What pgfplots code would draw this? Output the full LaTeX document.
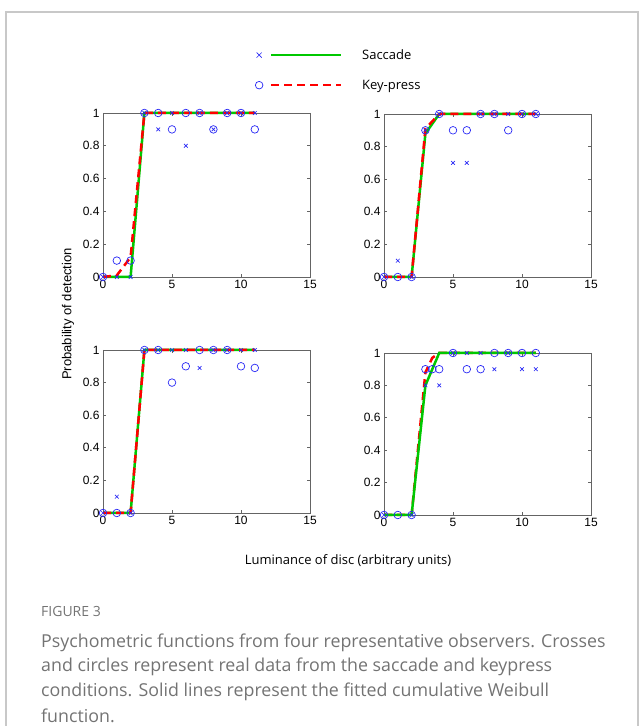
\documentclass[border=0pt]{standalone}
\usepackage{pgfplots}
\pgfplotsset{compat=1.18}
\usepackage{fontspec}
\setmainfont{Liberation Sans}
\newfontfamily\lblfont{Open Sans}
\newfontfamily\capfont{Open Sans}
\definecolor{mblue}{RGB}{40,40,245}
\definecolor{mgreen}{RGB}{0,200,0}
\definecolor{mred}{RGB}{255,0,0}
\definecolor{axgray}{RGB}{100,100,100}
\definecolor{capgray}{RGB}{115,115,115}
\definecolor{framegray}{RGB}{200,200,200}

\pgfplotsset{
  panel/.style={
    scale only axis, width=207pt, height=164pt,
    xmin=0,xmax=15,ymin=0,ymax=1,
    xtick={0,5,10,15}, ytick={0,0.2,0.4,0.6,0.8,1},
    axis line style={axgray, line width=0.7pt},
    tick style={axgray, line width=0.7pt},
    major tick length=3pt,
    tick align=inside,
    ticklabel style={font=\fontsize{12}{14}\selectfont, text=black},
    /pgf/number format/assume math mode=true,
    clip=false,
    anchor=north west,
  },
  sac/.style={only marks, mark=x, mark size=2.6pt, color=mblue, mark options={line width=0.7pt}},
  key/.style={only marks, mark=o, mark size=3.8pt, color=mblue, mark options={line width=0.7pt}},
  gfit/.style={mgreen, line width=2.5pt, no marks},
  rfit/.style={mred, line width=2.5pt, no marks, dash pattern=on 8pt off 5pt},
}

\begin{document}
\begin{tikzpicture}[x=1pt,y=1pt]
\useasboundingbox (0,0) rectangle (644,726);
\draw[framegray, line width=1.2pt] (6,-5) -- (6,714) -- (638,714) -- (638,-5);

% Top-left
\begin{axis}[panel, at={(103pt,613pt)},
  legend style={at={(axis description cs:0.7343,1.2622)}, anchor=west, draw=none, fill=none,
    inner sep=0pt, outer sep=0pt, row sep=19pt, nodes={inner sep=0pt},
    font=\lblfont\fontsize{13}{15}\selectfont},
  legend cell align=left]
\addlegendimage{legend image code/.code={
  \draw[mblue, line width=0.7pt] (-2.6pt,-2.6pt) -- (2.6pt,2.6pt) (-2.6pt,2.6pt) -- (2.6pt,-2.6pt);
  \draw[mgreen, line width=2.5pt, solid] (12pt,0pt) -- (82pt,0pt);
  \path[draw=none] (-3pt,0pt) -- (103pt,0pt);
}}
\addlegendentry{Saccade}
\addlegendimage{legend image code/.code={
  \draw[mblue, line width=0.7pt, solid] (0pt,0pt) circle (3.8pt);
  \draw[mred, line width=2.5pt, dash pattern=on 8pt off 5pt] (12pt,0pt) -- (82pt,0pt);
  \path[draw=none] (-3pt,0pt) -- (103pt,0pt);
}}
\addlegendentry{Key-press}
\addplot[gfit, forget plot] coordinates {(0,0)(1,0)(2,0)(3,1)(4,1)(5,1)(6,1)(7,1)(8,1)(9,1)(10,1)(11,1)};
\addplot[rfit, forget plot] coordinates {(0,0)(1,0.01)(2,0.12)(3,1)(4,1)(5,1)(6,1)(7,1)(8,1)(9,1)(10,1)(11,1)};
\addplot[sac, forget plot] coordinates {(0,0)(1,0)(2,0)(3,1)(4,0.9)(5,1)(6,0.8)(7,1)(8,0.9)(9,1)(10,1)(11,1)};
\addplot[key, forget plot] coordinates {(0,0)(1,0.1)(2,0.1)(3,1)(4,1)(5,0.9)(6,1)(7,1)(8,0.9)(9,1)(10,1)(11,0.9)};
\end{axis}

% Top-right
\begin{axis}[panel, at={(384pt,612pt)}, height=163pt]
\addplot[gfit] coordinates {(0,0)(1,0)(2,0)(3,0.88)(4,1)(5,1)(6,1)(7,1)(8,1)(9,1)(10,1)(11,1)};
\addplot[rfit] coordinates {(0,0)(1,0)(2,0)(3,0.91)(4,1)(5,1)(6,1)(7,1)(8,1)(9,1)(10,1)(11,1)};
\addplot[sac] coordinates {(0,0)(1,0.1)(2,0)(3,0.9)(4,1)(5,0.7)(6,0.7)(7,1)(8,1)(9,1)(10,1)(11,1)};
\addplot[key] coordinates {(0,0)(1,0)(2,0)(3,0.9)(4,1)(5,0.9)(6,0.9)(7,1)(8,1)(9,0.9)(10,1)(11,1)};
\end{axis}

% Bottom-left
\begin{axis}[panel, at={(103pt,376pt)}, height=163pt]
\addplot[gfit] coordinates {(0,0)(1,0)(2,0)(3,1)(4,1)(5,1)(6,1)(7,1)(8,1)(9,1)(10,1)(11,1)};
\addplot[rfit] coordinates {(0,0)(1,0)(2,0)(3,1)(4,1)(5,1)(6,1)(7,1)(8,1)(9,1)(10,1)(11,1)};
\addplot[sac] coordinates {(0,0)(1,0.1)(2,0)(3,1)(4,1)(5,1)(6,1)(7,0.89)(8,1)(9,1)(10,1)(11,1)};
\addplot[key] coordinates {(0,0)(1,0)(2,0)(3,1)(4,1)(5,0.8)(6,0.9)(7,1)(8,1)(9,1)(10,0.9)(11,0.89)};
\end{axis}

% Bottom-right
\begin{axis}[panel, at={(384pt,373pt)}, height=162pt]
\addplot[rfit] coordinates {(0,0)(1,0)(2,0)(3,0.88)(3.5,0.97)(4,1)(5,1)(6,1)(7,1)(8,1)(9,1)(10,1)(11,1)};
\addplot[gfit] coordinates {(0,0)(1,0)(2,0)(3,0.8)(4,1)(5,1)(6,1)(7,1)(8,1)(9,1)(10,1)(11,1)};
\addplot[sac] coordinates {(0,0)(2,0)(3,0.8)(4,0.8)(5,1)(6,1)(7,1)(8,0.9)(9,1)(10,0.9)(11,0.9)};
\addplot[key] coordinates {(0,0)(1,0)(2,0)(3,0.9)(3.5,0.9)(4,0.9)(5,1)(6,0.9)(7,0.9)(8,1)(9,1)(10,1)(11,1)};
\end{axis}

\node[rotate=90, font=\fontsize{13}{15}\selectfont] at (68,412) {Probability of detection};
\node[font=\lblfont\fontsize{13}{15}\selectfont] at (348,165) {Luminance of disc (arbitrary units)};
\node[anchor=base west, text=capgray, font=\capfont\fontsize{14}{16}\selectfont, inner sep=0pt] at (41,109) {FIGURE 3};
\node[anchor=base west, text=capgray, align=left, font=\capfont\fontsize{17.8}{25}\selectfont, inner sep=0pt] at (41,4)
  {Psychometric functions from four representative observers. Crosses\\
   and circles represent real data from the saccade and keypress\\
   conditions. Solid lines represent the fitted cumulative Weibull\\
   function.};
\end{tikzpicture}
\end{document}
